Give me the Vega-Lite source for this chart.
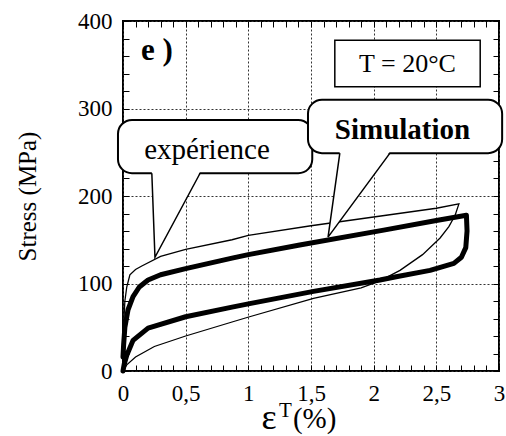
{
  "$schema": "https://vega.github.io/schema/vega-lite/v6.json",
  "width": 376,
  "height": 350,
  "autosize": {"type": "none"},
  "padding": {"left": 123, "top": 21, "right": 7, "bottom": 65},
  "background": "white",
  "config": {"view": {"stroke": "black", "strokeWidth": 2}, "font": "Liberation Serif"},
  "datasets": {
    "curves": [
      {"s": "exp", "k": 1, "x": 0, "y": 0},
      {"s": "exp", "k": 2, "x": 0.003, "y": 30},
      {"s": "exp", "k": 3, "x": 0.008, "y": 60},
      {"s": "exp", "k": 4, "x": 0.015, "y": 80},
      {"s": "exp", "k": 5, "x": 0.03, "y": 96},
      {"s": "exp", "k": 6, "x": 0.055, "y": 110},
      {"s": "exp", "k": 7, "x": 0.1, "y": 116},
      {"s": "exp", "k": 8, "x": 0.15, "y": 120},
      {"s": "exp", "k": 9, "x": 0.3, "y": 131},
      {"s": "exp", "k": 10, "x": 0.5, "y": 139},
      {"s": "exp", "k": 11, "x": 0.87, "y": 150},
      {"s": "exp", "k": 12, "x": 1.0, "y": 155},
      {"s": "exp", "k": 13, "x": 1.5, "y": 166},
      {"s": "exp", "k": 14, "x": 2.0, "y": 176},
      {"s": "exp", "k": 15, "x": 2.5, "y": 186},
      {"s": "exp", "k": 16, "x": 2.68, "y": 191},
      {"s": "exp", "k": 17, "x": 2.65, "y": 178},
      {"s": "exp", "k": 18, "x": 2.6, "y": 165},
      {"s": "exp", "k": 19, "x": 2.53, "y": 152},
      {"s": "exp", "k": 20, "x": 2.39, "y": 133},
      {"s": "exp", "k": 21, "x": 2.21, "y": 115},
      {"s": "exp", "k": 22, "x": 2.05, "y": 103},
      {"s": "exp", "k": 23, "x": 1.9, "y": 95},
      {"s": "exp", "k": 24, "x": 1.52, "y": 83},
      {"s": "exp", "k": 25, "x": 1.01, "y": 62},
      {"s": "exp", "k": 26, "x": 0.87, "y": 56},
      {"s": "exp", "k": 27, "x": 0.5, "y": 40},
      {"s": "exp", "k": 28, "x": 0.25, "y": 28},
      {"s": "exp", "k": 29, "x": 0.1, "y": 16},
      {"s": "exp", "k": 30, "x": 0.03, "y": 7},
      {"s": "exp", "k": 31, "x": 0, "y": 0},
      {"s": "sim", "k": 1, "x": 0, "y": 16},
      {"s": "sim", "k": 2, "x": 0.005, "y": 30},
      {"s": "sim", "k": 3, "x": 0.015, "y": 50},
      {"s": "sim", "k": 4, "x": 0.04, "y": 70},
      {"s": "sim", "k": 5, "x": 0.08, "y": 85},
      {"s": "sim", "k": 6, "x": 0.13, "y": 96},
      {"s": "sim", "k": 7, "x": 0.2, "y": 104},
      {"s": "sim", "k": 8, "x": 0.3, "y": 110},
      {"s": "sim", "k": 9, "x": 0.5, "y": 117},
      {"s": "sim", "k": 10, "x": 0.87, "y": 129},
      {"s": "sim", "k": 11, "x": 1.0, "y": 133},
      {"s": "sim", "k": 12, "x": 1.41, "y": 144},
      {"s": "sim", "k": 13, "x": 2.08, "y": 161},
      {"s": "sim", "k": 14, "x": 2.5, "y": 172},
      {"s": "sim", "k": 15, "x": 2.74, "y": 178},
      {"s": "sim", "k": 16, "x": 2.745, "y": 160},
      {"s": "sim", "k": 17, "x": 2.735, "y": 141},
      {"s": "sim", "k": 18, "x": 2.7, "y": 130},
      {"s": "sim", "k": 19, "x": 2.64, "y": 123},
      {"s": "sim", "k": 20, "x": 2.45, "y": 115},
      {"s": "sim", "k": 21, "x": 2.19, "y": 108},
      {"s": "sim", "k": 22, "x": 2.05, "y": 104},
      {"s": "sim", "k": 23, "x": 1.52, "y": 91},
      {"s": "sim", "k": 24, "x": 1.01, "y": 77},
      {"s": "sim", "k": 25, "x": 0.87, "y": 73},
      {"s": "sim", "k": 26, "x": 0.5, "y": 62},
      {"s": "sim", "k": 27, "x": 0.2, "y": 49},
      {"s": "sim", "k": 28, "x": 0.08, "y": 35},
      {"s": "sim", "k": 29, "x": 0.03, "y": 18},
      {"s": "sim", "k": 30, "x": 0.01, "y": 8},
      {"s": "sim", "k": 31, "x": 0, "y": 0}
    ],
    "bubbles": [
      {"p": "exp", "x1": -0.04, "x2": 1.51, "y1": 226, "y2": 287},
      {"p": "sim", "x1": 1.476, "x2": 3.025, "y1": 249, "y2": 310}
    ],
    "pointerFill": [
      {"p": "exp", "x": 0.23, "lo": 228, "hi": 228},
      {"p": "exp", "x": 0.255, "lo": 130, "hi": 228},
      {"p": "exp", "x": 0.615, "lo": 228, "hi": 228},
      {"p": "sim", "x": 1.636, "lo": 153, "hi": 153},
      {"p": "sim", "x": 1.73, "lo": 171.6, "hi": 251},
      {"p": "sim", "x": 2.13, "lo": 251, "hi": 251}
    ],
    "pointerEdge": [
      {"p": "exp", "k": 1, "x": 0.23, "y": 226},
      {"p": "exp", "k": 2, "x": 0.255, "y": 130},
      {"p": "exp", "k": 3, "x": 0.615, "y": 226},
      {"p": "sim", "k": 1, "x": 1.73, "y": 249},
      {"p": "sim", "k": 2, "x": 1.636, "y": 153},
      {"p": "sim", "k": 3, "x": 2.13, "y": 249}
    ]
  },
  "resolve": {"axis": {"x": "independent", "y": "independent"}},
  "layer": [
    {
      "data": {"name": "curves"},
      "transform": [{"filter": "datum.s == 'exp'"}],
      "mark": {"type": "line", "color": "black", "strokeWidth": 1.3},
      "encoding": {
        "x": {"field": "x", "type": "quantitative", "scale": {"domain": [0, 3], "nice": false, "zero": false},
          "axis": {"orient": "bottom", "title": null, "domain": false,
            "values": [0,0.1,0.2,0.3,0.4,0.5,0.6,0.7,0.8,0.9,1,1.1,1.2,1.3,1.4,1.5,1.6,1.7,1.8,1.9,2,2.1,2.2,2.3,2.4,2.5,2.6,2.7,2.8,2.9,3],
            "tickSize": -6, "tickColor": "black", "tickWidth": 1,
            "labelPadding": 17, "labelFontSize": 23, "labelFont": "Liberation Serif", "labelColor": "black",
            "labelFlush": false, "labelOverlap": false, "labelBound": false,
            "labelExpr": "abs(datum.value*2 - round(datum.value*2)) > 0.01 ? '' : replace(format(datum.value, '~g'), '.', ',')",
            "grid": true, "gridColor": "#333", "gridDash": [2, 2], "gridWidth": 1,
            "gridOpacity": {"condition": {"test": "abs(datum.value*2 - round(datum.value*2)) > 0.01", "value": 0}, "value": 1}}},
        "y": {"field": "y", "type": "quantitative", "scale": {"domain": [0, 400], "nice": false},
          "axis": {"orient": "left", "title": "Stress (MPa)", "titleFont": "Liberation Serif", "titleFontSize": 25, "titleFontWeight": "normal", "titleColor": "black", "titlePadding": 37,
            "domain": false,
            "values": [0,20,40,60,80,100,120,140,160,180,200,220,240,260,280,300,320,340,360,380,400],
            "tickSize": -6, "tickColor": "black", "tickWidth": 1,
            "labelPadding": 17, "labelFontSize": 23, "labelFont": "Liberation Serif", "labelColor": "black",
            "labelFlush": false, "labelOverlap": false, "labelBound": false,
            "labelExpr": "datum.value % 100 == 0 ? datum.value : ''",
            "grid": true, "gridColor": "#333", "gridDash": [2, 2], "gridWidth": 1,
            "gridOpacity": {"condition": {"test": "datum.value % 100 != 0", "value": 0}, "value": 1}}},
        "order": {"field": "k", "type": "quantitative"}
      }
    },
    {
      "data": {"name": "curves"},
      "transform": [{"filter": "datum.s == 'sim'"}],
      "mark": {"type": "line", "color": "black", "strokeWidth": 5, "strokeJoin": "round", "strokeCap": "round"},
      "encoding": {
        "x": {"field": "x", "type": "quantitative", "scale": {"domain": [0, 3], "nice": false, "zero": false},
          "axis": {"orient": "top", "title": null, "domain": false, "labels": false, "grid": false,
            "values": [0,0.1,0.2,0.3,0.4,0.5,0.6,0.7,0.8,0.9,1,1.1,1.2,1.3,1.4,1.5,1.6,1.7,1.8,1.9,2,2.1,2.2,2.3,2.4,2.5,2.6,2.7,2.8,2.9,3],
            "tickSize": -6, "tickColor": "black", "tickWidth": 1}},
        "y": {"field": "y", "type": "quantitative", "scale": {"domain": [0, 400], "nice": false},
          "axis": {"orient": "right", "title": null, "domain": false, "labels": false, "grid": false,
            "values": [0,20,40,60,80,100,120,140,160,180,200,220,240,260,280,300,320,340,360,380,400],
            "tickSize": -6, "tickColor": "black", "tickWidth": 1}},
        "order": {"field": "k", "type": "quantitative"}
      }
    },
    {
      "data": {"values": [{"x1": 1.69, "x2": 2.85, "y1": 325, "y2": 378}]},
      "mark": {"type": "rect", "fill": "white", "stroke": "black", "strokeWidth": 1.5},
      "encoding": {
        "x": {"field": "x1", "type": "quantitative", "scale": {"domain": [0, 3], "nice": false, "zero": false}, "axis": null},
        "x2": {"field": "x2"},
        "y": {"field": "y1", "type": "quantitative", "scale": {"domain": [0, 400], "nice": false}, "axis": null},
        "y2": {"field": "y2"}
      }
    },
    {
      "data": {"values": [{"x": 2.27, "y": 351, "t": "T = 20°C"}]},
      "mark": {"type": "text", "font": "Liberation Serif", "fontSize": 26, "color": "black", "align": "center", "baseline": "middle"},
      "encoding": {
        "x": {"field": "x", "type": "quantitative", "scale": {"domain": [0, 3], "nice": false, "zero": false}, "axis": null},
        "y": {"field": "y", "type": "quantitative", "scale": {"domain": [0, 400], "nice": false}, "axis": null},
        "text": {"field": "t"}
      }
    },
    {
      "data": {"name": "bubbles"},
      "mark": {"type": "rect", "fill": "white", "stroke": "black", "strokeWidth": 2, "cornerRadius": 14},
      "encoding": {
        "x": {"field": "x1", "type": "quantitative", "scale": {"domain": [0, 3], "nice": false, "zero": false}, "axis": null},
        "x2": {"field": "x2"},
        "y": {"field": "y1", "type": "quantitative", "scale": {"domain": [0, 400], "nice": false}, "axis": null},
        "y2": {"field": "y2"}
      }
    },
    {
      "data": {"name": "pointerFill"},
      "mark": {"type": "area", "color": "white", "opacity": 1, "orient": "vertical"},
      "encoding": {
        "x": {"field": "x", "type": "quantitative", "scale": {"domain": [0, 3], "nice": false, "zero": false}, "axis": null},
        "y": {"field": "lo", "type": "quantitative", "scale": {"domain": [0, 400], "nice": false}, "axis": null},
        "y2": {"field": "hi"},
        "detail": {"field": "p"}
      }
    },
    {
      "data": {"name": "pointerEdge"},
      "mark": {"type": "line", "color": "black", "strokeWidth": 1.5},
      "encoding": {
        "x": {"field": "x", "type": "quantitative", "scale": {"domain": [0, 3], "nice": false, "zero": false}, "axis": null},
        "y": {"field": "y", "type": "quantitative", "scale": {"domain": [0, 400], "nice": false}, "axis": null},
        "detail": {"field": "p"},
        "order": {"field": "k", "type": "quantitative"}
      }
    },
    {
      "data": {"values": [{"x": 0.67, "y": 253, "t": "expérience"}]},
      "mark": {"type": "text", "font": "Liberation Serif", "fontSize": 29, "color": "black", "align": "center", "baseline": "middle"},
      "encoding": {
        "x": {"field": "x", "type": "quantitative", "scale": {"domain": [0, 3], "nice": false, "zero": false}, "axis": null},
        "y": {"field": "y", "type": "quantitative", "scale": {"domain": [0, 400], "nice": false}, "axis": null},
        "text": {"field": "t"}
      }
    },
    {
      "data": {"values": [{"x": 2.23, "y": 275, "t": "Simulation"}]},
      "mark": {"type": "text", "font": "Liberation Serif", "fontSize": 29, "fontWeight": "bold", "color": "black", "align": "center", "baseline": "middle"},
      "encoding": {
        "x": {"field": "x", "type": "quantitative", "scale": {"domain": [0, 3], "nice": false, "zero": false}, "axis": null},
        "y": {"field": "y", "type": "quantitative", "scale": {"domain": [0, 400], "nice": false}, "axis": null},
        "text": {"field": "t"}
      }
    },
    {
      "data": {"values": [{"x": 0.27, "y": 355, "t": "e )"}]},
      "mark": {"type": "text", "font": "Liberation Serif", "fontSize": 31, "fontWeight": "bold", "color": "black", "align": "center", "baseline": "alphabetic"},
      "encoding": {
        "x": {"field": "x", "type": "quantitative", "scale": {"domain": [0, 3], "nice": false, "zero": false}, "axis": null},
        "y": {"field": "y", "type": "quantitative", "scale": {"domain": [0, 400], "nice": false}, "axis": null},
        "text": {"field": "t"}
      }
    },
    {
      "data": {"values": [{"x": 1.165, "y": -66.3, "t": "ε"}]},
      "mark": {"type": "text", "font": "Liberation Serif", "fontSize": 36, "color": "black", "align": "center", "baseline": "alphabetic"},
      "encoding": {
        "x": {"field": "x", "type": "quantitative", "scale": {"domain": [0, 3], "nice": false, "zero": false}, "axis": null},
        "y": {"field": "y", "type": "quantitative", "scale": {"domain": [0, 400], "nice": false}, "axis": null},
        "text": {"field": "t"}
      }
    },
    {
      "data": {"values": [{"x": 1.245, "y": -52.6, "t": "T"}]},
      "mark": {"type": "text", "font": "Liberation Serif", "fontSize": 21, "color": "black", "align": "left", "baseline": "alphabetic"},
      "encoding": {
        "x": {"field": "x", "type": "quantitative", "scale": {"domain": [0, 3], "nice": false, "zero": false}, "axis": null},
        "y": {"field": "y", "type": "quantitative", "scale": {"domain": [0, 400], "nice": false}, "axis": null},
        "text": {"field": "t"}
      }
    },
    {
      "data": {"values": [{"x": 1.356, "y": -65.1, "t": "(%)"}]},
      "mark": {"type": "text", "font": "Liberation Serif", "fontSize": 29, "color": "black", "align": "left", "baseline": "alphabetic"},
      "encoding": {
        "x": {"field": "x", "type": "quantitative", "scale": {"domain": [0, 3], "nice": false, "zero": false}, "axis": null},
        "y": {"field": "y", "type": "quantitative", "scale": {"domain": [0, 400], "nice": false}, "axis": null},
        "text": {"field": "t"}
      }
    }
  ]
}
